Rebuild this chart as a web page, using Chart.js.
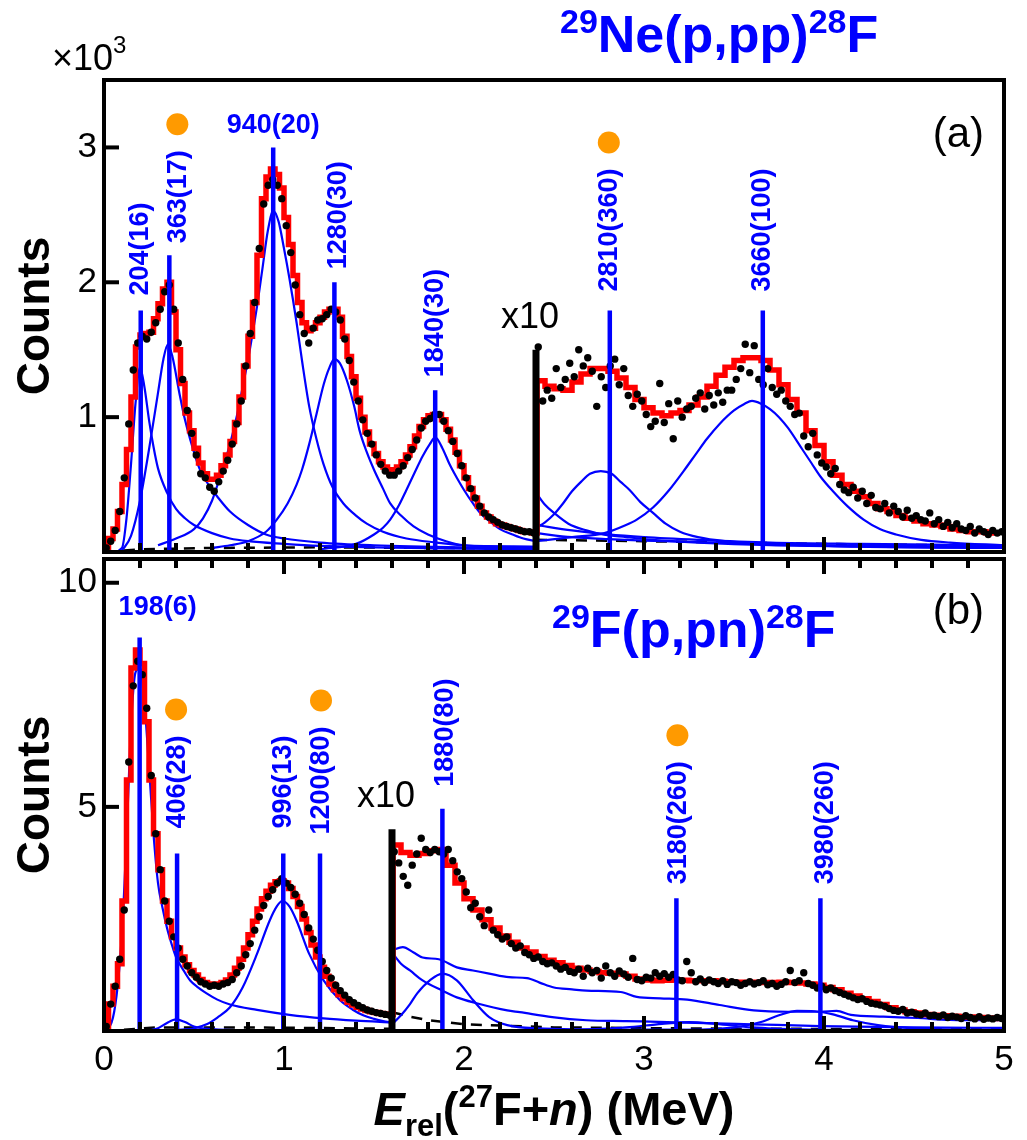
<!DOCTYPE html>
<html>
<head>
<meta charset="utf-8">
<script src="https://cdn.jsdelivr.net/npm/chart.js@4.4.1/dist/chart.umd.min.js"></script>
<style>
  html, body { margin: 0; padding: 0; background: #fff; }
  #wrap { position: relative; width: 1027px; height: 1140px; }
  #wrap canvas { position: absolute; left: 0; }
  #panel-a { top: 0; }
  #panel-b { top: 555px; }
</style>
</head>
<body>
<div id="wrap">
  <canvas id="panel-a" width="1027" height="556"></canvas>
  <canvas id="panel-b" width="1027" height="585"></canvas>
</div>
<script>
const FONT = '"Liberation Sans", Arial, Helvetica, sans-serif';
const BLUE = '#0000ff', RED = '#ff0000', ORANGE = '#ff9a00';

// energy axis, MeV
const xMajorTicks = [0, 1, 2, 3, 4, 5];
const xMinorStep = 0.2;

// ---------- (a) 29Ne(p,pp)28F ----------
const yTicksA = [1, 2, 3];
const cutA = 2.4, cutTopA = 1.5;           // x10 above this energy
const levelsA = [204, 363, 940, 1280, 1840, 2810, 3660];   // keV
const levelErrA = [16, 17, 20, 30, 30, 360, 100];
const levelTopA = [1.79, 2.2, 3.0, 2.0, 1.2, 1.79, 1.79];
const markedA = [363, 2810];

// fit: 25 keV bins below the cut, 50 keV bins above it
const fitA_lo = [
  0.03, 0.10, 0.17, 0.30, 0.50, 0.76, 1.15, 1.52, 1.61, 1.62,
  1.63, 1.73, 1.84, 1.95, 2.00, 1.78, 1.50, 1.25, 1.03, 0.90,
  0.77, 0.66, 0.58, 0.54, 0.54, 0.57, 0.64, 0.72, 0.82, 0.96,
  1.15, 1.38, 1.60, 1.85, 2.20, 2.62, 2.78, 2.84, 2.80, 2.70,
  2.48, 2.28, 2.05, 1.85, 1.70, 1.64, 1.66, 1.70, 1.74, 1.78,
  1.80, 1.80, 1.74, 1.60, 1.45, 1.30, 1.14, 1.00, 0.89, 0.80,
  0.73, 0.67, 0.63, 0.61, 0.61, 0.63, 0.67, 0.72, 0.78, 0.86,
  0.93, 0.98, 1.01, 1.02, 1.02, 0.98, 0.91, 0.83, 0.74, 0.64,
  0.55, 0.47, 0.40, 0.34, 0.29, 0.26, 0.23, 0.21, 0.20, 0.19,
  0.18, 0.17, 0.16, 0.15, 0.15, 0.14
];
const fitA_hi = [
  1.27, 1.23, 1.21, 1.20, 1.26, 1.32, 1.36, 1.36, 1.34, 1.29,
  1.22, 1.13, 1.07, 1.03, 1.01, 1.03, 1.05, 1.09, 1.15, 1.23,
  1.31, 1.37, 1.42, 1.44, 1.44, 1.42, 1.35, 1.24, 1.13, 1.03,
  0.90, 0.79, 0.67, 0.57, 0.50, 0.45, 0.41, 0.36, 0.32, 0.30,
  0.27, 0.25, 0.23, 0.21, 0.20, 0.19, 0.17, 0.16, 0.15, 0.15,
  0.14, 0.14
];
// data, 25 keV bins
const countsA_lo = [
  0.03, 0.08, 0.16, 0.30, 0.55, 0.95, 1.35, 1.55, 1.60, 1.58,
  1.63, 1.70, 1.80, 1.93, 1.98, 1.80, 1.55, 1.28, 1.05, 0.88,
  0.72, 0.58, 0.55, 0.48, 0.45, 0.52, 0.60, 0.68, 0.80, 0.95,
  1.12, 1.38, 1.62, 1.85, 2.25, 2.58, 2.72, 2.76, 2.72, 2.62,
  2.42, 2.22, 1.98, 1.76, 1.62, 1.55, 1.66, 1.72, 1.73, 1.76,
  1.80, 1.78, 1.72, 1.58, 1.42, 1.26, 1.12, 0.98, 0.88, 0.80,
  0.72, 0.65, 0.60, 0.57, 0.57, 0.60, 0.64, 0.70, 0.76, 0.83,
  0.92, 0.97, 0.99, 1.02, 1.02, 0.97, 0.90, 0.82, 0.73, 0.64,
  0.55, 0.47, 0.40, 0.34, 0.29, 0.26, 0.24, 0.22, 0.20, 0.19,
  0.18, 0.17, 0.16, 0.15, 0.15, 0.14
];
const countsA_hi = [
  1.52, 1.12, 1.20, 1.14, 1.36, 1.22, 1.28, 1.40, 1.30, 1.50,
  1.38, 1.44, 1.34, 1.08, 1.30, 1.22, 1.38, 1.43, 1.24, 1.36,
  1.16, 1.08, 1.17, 1.12, 1.02, 0.93, 0.97, 1.25, 0.96, 1.10,
  0.84, 1.12, 1.00, 1.06, 1.08, 1.14, 1.18, 1.06, 1.16, 1.09,
  1.18, 1.11, 1.20, 1.20, 1.28, 1.36, 1.54, 1.33, 1.53, 1.28,
  1.24, 1.36, 1.22, 1.17, 1.20, 1.12, 1.08, 1.02, 1.03, 0.86,
  0.78, 0.88, 0.72, 0.66, 0.63, 0.58, 0.62, 0.50, 0.46, 0.44,
  0.48, 0.40, 0.45, 0.36, 0.42, 0.33, 0.32, 0.36, 0.29, 0.34,
  0.30, 0.26, 0.31, 0.25, 0.27, 0.24, 0.23, 0.29, 0.21, 0.24,
  0.19, 0.22, 0.18, 0.21, 0.17, 0.16, 0.19, 0.14, 0.17, 0.15,
  0.13, 0.16, 0.14, 0.15
];
// resonance components [E, counts]
const compA204 = [[0.05,0],[0.1,0.03],[0.125,0.25],[0.15,0.65],[0.175,1.1],[0.2,1.37],[0.225,1.22],[0.25,0.98],[0.275,0.78],[0.3,0.62],[0.35,0.44],[0.4,0.32],[0.45,0.25],[0.5,0.2],[0.6,0.14],[0.7,0.1],[0.8,0.08],[1.0,0.06],[1.2,0.045],[1.5,0.035],[2.0,0.025],[2.4,0.02]];
const compA363 = [[0.1,0.01],[0.15,0.12],[0.2,0.38],[0.25,0.76],[0.3,1.18],[0.33,1.43],[0.355,1.54],[0.38,1.45],[0.42,1.17],[0.45,0.98],[0.48,0.83],[0.53,0.62],[0.58,0.5],[0.63,0.41],[0.7,0.3],[0.8,0.2],[0.9,0.13],[1.0,0.1],[1.2,0.07],[1.5,0.05],[2.0,0.035],[2.4,0.03]];
const compA940 = [[0.3,0.05],[0.4,0.1],[0.5,0.17],[0.55,0.25],[0.6,0.38],[0.65,0.58],[0.7,0.8],[0.74,1.02],[0.77,1.22],[0.81,1.5],[0.85,1.82],[0.88,2.1],[0.91,2.38],[0.94,2.53],[0.97,2.45],[1.0,2.25],[1.03,2.03],[1.07,1.7],[1.1,1.42],[1.14,1.08],[1.18,0.84],[1.22,0.65],[1.27,0.48],[1.33,0.36],[1.4,0.27],[1.46,0.21],[1.55,0.15],[1.68,0.1],[1.85,0.07],[2.0,0.05],[2.4,0.04]];
const compA1280 = [[0.6,0.03],[0.7,0.05],[0.8,0.08],[0.9,0.15],[0.96,0.24],[1.02,0.36],[1.07,0.5],[1.1,0.61],[1.14,0.8],[1.18,1.02],[1.22,1.24],[1.25,1.36],[1.28,1.43],[1.31,1.4],[1.35,1.27],[1.39,1.08],[1.42,0.9],[1.46,0.74],[1.5,0.61],[1.55,0.47],[1.59,0.36],[1.65,0.27],[1.72,0.19],[1.8,0.13],[1.9,0.08],[2.0,0.05],[2.2,0.04],[2.4,0.03]];
const compA1840 = [[1.2,0.02],[1.4,0.06],[1.5,0.13],[1.55,0.18],[1.59,0.24],[1.64,0.35],[1.68,0.46],[1.73,0.6],[1.77,0.71],[1.81,0.8],[1.84,0.85],[1.88,0.77],[1.92,0.65],[1.96,0.55],[2.0,0.46],[2.05,0.36],[2.09,0.29],[2.15,0.22],[2.2,0.17],[2.27,0.13],[2.33,0.1],[2.4,0.08]];
const compA1840x = [[2.4,0.44],[2.45,0.35],[2.5,0.29],[2.58,0.21],[2.68,0.16],[2.77,0.13],[2.9,0.11],[3.05,0.09],[3.3,0.07],[3.7,0.05],[4.2,0.04],[5,0.03]];
const compA1280x = [[2.4,0.2],[2.6,0.16],[2.8,0.13],[3.0,0.11],[3.3,0.09],[3.7,0.07],[4.2,0.06],[5,0.05]];
const compA940x = [[2.4,0.14],[2.6,0.11],[2.8,0.095],[3.0,0.085],[3.4,0.07],[4,0.05],[5,0.04]];
const compA2810 = [[2.4,0.18],[2.45,0.22],[2.5,0.28],[2.55,0.36],[2.6,0.45],[2.65,0.52],[2.7,0.58],[2.76,0.6],[2.82,0.58],[2.87,0.52],[2.92,0.46],[2.98,0.37],[3.05,0.29],[3.12,0.21],[3.2,0.15],[3.3,0.11],[3.45,0.08],[3.7,0.06],[4.2,0.04],[5,0.03]];
const compA3660 = [[2.4,0.08],[2.6,0.11],[2.78,0.14],[2.9,0.2],[2.96,0.24],[3.05,0.33],[3.14,0.46],[3.22,0.6],[3.29,0.73],[3.35,0.84],[3.42,0.95],[3.5,1.05],[3.56,1.1],[3.6,1.12],[3.65,1.1],[3.7,1.06],[3.75,1.0],[3.8,0.92],[3.88,0.76],[3.93,0.66],[3.98,0.56],[4.05,0.45],[4.13,0.34],[4.22,0.24],[4.31,0.17],[4.4,0.13],[4.54,0.09],[4.7,0.07],[5,0.05]];
const bgA = [[0,0],[0.2,0.02],[0.6,0.03],[1.2,0.035],[1.8,0.03],[2.4,0.025]];
const bgAx = [[2.4,0.09],[3,0.08],[4,0.06],[5,0.045]];

// ---------- (b) 29F(p,pn)28F ----------
const yTicksB = [5, 10];
const cutB = 1.6, cutTopB = 4.5;
const levelsB = [198, 406, 996, 1200, 1880, 3180, 3980];
const levelErrB = [6, 28, 13, 80, 80, 260, 260];
const levelTopB = [8.78, 3.96, 3.96, 3.96, 4.96, 2.96, 2.96];
const markedB = [406, 1200, 3180];

const fitB_lo = [
  0.10, 0.60, 1.00, 1.50, 2.90, 5.60, 8.10, 8.50, 8.20, 6.90,
  5.60, 4.40, 3.60, 2.90, 2.45, 2.10, 1.85, 1.65, 1.48, 1.35,
  1.25, 1.15, 1.08, 1.05, 1.05, 1.05, 1.08, 1.14, 1.25, 1.40,
  1.60, 1.85, 2.15, 2.45, 2.72, 2.95, 3.12, 3.25, 3.33, 3.35,
  3.30, 3.18, 3.00, 2.78, 2.50, 2.20, 1.92, 1.65, 1.42, 1.22,
  1.05, 0.92, 0.81, 0.72, 0.64, 0.58, 0.53, 0.49, 0.46, 0.43,
  0.41, 0.39, 0.38, 0.37
];
const fitB_hi = [
  4.15, 3.98, 3.92, 3.96, 4.02, 4.05, 3.70, 3.30, 2.95, 2.70,
  2.48, 2.30, 2.12, 1.98, 1.85, 1.76, 1.66, 1.58, 1.52, 1.46,
  1.40, 1.36, 1.33, 1.30, 1.29, 1.27, 1.22, 1.16, 1.14, 1.12,
  1.13, 1.14, 1.13, 1.12, 1.12, 1.12, 1.11, 1.10, 1.09, 1.09,
  1.09, 1.08, 1.08, 1.09, 1.08, 1.07, 1.05, 1.02, 0.97, 0.92,
  0.84, 0.78, 0.72, 0.66, 0.59, 0.52, 0.47, 0.43, 0.40, 0.37,
  0.35, 0.34, 0.33, 0.32, 0.31, 0.30, 0.29, 0.28
];
const countsB_lo = [
  0.10, 0.60, 1.00, 1.60, 2.70, 6.00, 7.70, 8.25, 7.95, 7.20,
  5.70, 4.40, 3.60, 2.90, 2.45, 2.10, 1.85, 1.60, 1.45, 1.30,
  1.20, 1.10, 1.05, 1.00, 1.02, 1.00, 1.05, 1.08, 1.15, 1.30,
  1.45, 1.70, 1.95, 2.25, 2.55, 2.80, 3.00, 3.15, 3.30, 3.40,
  3.30, 3.20, 3.05, 2.85, 2.60, 2.30, 2.05, 1.80, 1.55, 1.35,
  1.18, 1.02, 0.90, 0.80, 0.70, 0.63, 0.57, 0.52, 0.47, 0.44,
  0.41, 0.39, 0.37, 0.35
];
const countsB_hi = [
  4.00, 3.75, 3.45, 3.25, 3.70, 3.95, 4.30, 4.05, 3.98, 4.05,
  4.00, 3.95, 4.05, 3.80, 3.55, 3.40, 3.10, 2.75, 2.85, 2.55,
  2.35, 2.70, 2.25, 2.15, 2.05, 2.10, 1.95, 1.85, 1.90, 1.75,
  1.70, 1.62, 1.65, 1.55, 1.50, 1.52, 1.45, 1.38, 1.42, 1.33,
  1.30, 1.38, 1.22, 1.40, 1.30, 1.35, 1.18, 1.45, 1.30, 1.22,
  1.34, 1.27, 1.20, 1.62, 1.15, 1.12, 1.20, 1.18, 1.30, 1.22,
  1.28, 1.20, 1.26, 1.14, 1.12, 1.55, 1.30, 1.10, 1.16, 1.08,
  1.14, 1.10, 1.06, 1.12, 1.04, 1.10, 1.08, 1.02, 1.06, 1.10,
  1.05, 1.08, 1.12, 1.03, 1.06, 1.00, 1.04, 1.10, 1.35, 1.08,
  1.12, 1.30, 1.06, 1.02, 0.96, 1.00, 0.92, 0.96, 0.90, 0.86,
  0.82, 0.78, 0.74, 0.70, 0.72, 0.66, 0.62, 0.60, 0.58, 0.55,
  0.50, 0.46, 0.44, 0.48, 0.40, 0.42, 0.38, 0.36, 0.40, 0.34,
  0.35, 0.32, 0.36, 0.30, 0.33, 0.31, 0.28, 0.34, 0.30, 0.27,
  0.32, 0.26, 0.29, 0.27, 0.30, 0.28
];
const compB198 = [[0,0],[0.05,0.3],[0.1,2.2],[0.13,4.8],[0.15,6.8],[0.175,8.0],[0.2,8.1],[0.225,7.3],[0.25,5.9],[0.275,4.4],[0.3,3.3],[0.325,2.75],[0.35,2.3],[0.375,1.95],[0.4,1.65],[0.45,1.3],[0.48,1.12],[0.52,0.98],[0.57,0.84],[0.63,0.7],[0.7,0.59],[0.85,0.47],[1.03,0.36],[1.22,0.28],[1.4,0.23],[1.6,0.19]];
const compB406 = [[0.25,0.01],[0.3,0.06],[0.35,0.18],[0.4,0.26],[0.45,0.2],[0.5,0.1],[0.6,0.04],[0.8,0.015],[1.6,0.01]];
const compB996 = [[0.4,0.02],[0.5,0.06],[0.57,0.15],[0.63,0.3],[0.7,0.53],[0.77,0.97],[0.85,1.72],[0.92,2.46],[0.96,2.78],[0.99,2.9],[1.03,2.78],[1.07,2.46],[1.14,1.72],[1.22,1.13],[1.31,0.69],[1.38,0.48],[1.44,0.35],[1.5,0.27],[1.55,0.22],[1.6,0.19]];
const compB198x = [[1.6,1.8],[1.66,1.87],[1.72,1.75],[1.77,1.64],[1.86,1.6],[1.96,1.42],[2.05,1.35],[2.14,1.28],[2.25,1.2],[2.35,1.18],[2.42,1.08],[2.5,0.97],[2.6,0.93],[2.68,0.9],[2.87,0.87],[2.96,0.76],[3.09,0.73],[3.24,0.7],[3.42,0.58],[3.61,0.46],[3.8,0.43],[3.98,0.43],[4.07,0.45],[4.15,0.36],[4.33,0.32],[4.52,0.29],[4.7,0.25],[5,0.24]];
const compB996x = [[1.6,1.75],[1.65,1.5],[1.7,1.35],[1.77,1.13],[1.88,0.9],[1.96,0.75],[2.07,0.62],[2.24,0.46],[2.31,0.42],[2.49,0.31],[2.68,0.24],[2.9,0.22],[3.13,0.2],[3.4,0.17],[3.6,0.15],[3.98,0.11],[4.5,0.08],[5,0.07]];
const compB1880 = [[1.6,0.15],[1.65,0.35],[1.7,0.6],[1.74,0.84],[1.81,1.13],[1.88,1.28],[1.96,1.13],[2.05,0.69],[2.14,0.31],[2.24,0.13],[2.4,0.06],[3,0.03],[5,0.02]];
const compB3180 = [[2.6,0.02],[2.9,0.08],[3.1,0.16],[3.25,0.2],[3.4,0.16],[3.6,0.08],[3.9,0.03],[4.3,0.01]];
const compB3980 = [[3.3,0.02],[3.5,0.08],[3.65,0.2],[3.75,0.35],[3.85,0.45],[3.95,0.44],[4.05,0.37],[4.16,0.24],[4.3,0.13],[4.5,0.06],[5,0.02]];
const bgB = [[0,0],[0.3,0.08],[0.8,0.08],[1.6,0.05]];
const bgBx = [[1.6,0.42],[1.7,0.32],[1.8,0.24],[2.0,0.15],[2.5,0.08],[3.5,0.05],[5,0.04]];

// ---------- helpers ----------
const binned = (vals, first, width) => vals.map((v, i) => ({ x: +(first + i * width).toFixed(4), y: v }));
const pts = arr => arr.map(([x, y]) => ({ x, y }));

function buildDatasets(p) {
  const ds = [];
  p.levels.forEach((e, i) => ds.push({
    data: [{ x: e / 1000, y: 0 }, { x: e / 1000, y: p.levelTop[i] }],
    borderColor: BLUE, borderWidth: 4.5, borderCapStyle: 'butt', pointRadius: 0, order: 0
  }));
  ds.push({
    data: [{ x: p.cut, y: 0 }, { x: p.cut, y: p.cutTop }],
    borderColor: '#000', borderWidth: 7, borderCapStyle: 'butt', pointRadius: 0, order: 0
  });
  ds.push({
    data: binned(p.countsLo, 0.0125, 0.025).concat(binned(p.countsHi, p.cut + 0.0125, 0.025)),
    showLine: false, pointRadius: 3.7, pointBackgroundColor: '#000', pointBorderWidth: 0, order: 1
  });
  ds.push({
    data: binned(p.fitLo, 0.0125, 0.025).concat(binned(p.fitHi, p.cut + 0.025, 0.05)),
    stepped: 'middle', borderColor: RED, borderWidth: 5.5, pointRadius: 0, order: 2
  });
  p.components.forEach(c => ds.push({
    data: pts(c), borderColor: BLUE, borderWidth: 2.2, pointRadius: 0,
    cubicInterpolationMode: 'monotone', order: 3
  }));
  p.background.forEach(c => ds.push({
    data: pts(c), borderColor: '#000', borderWidth: 2.5, borderDash: [11, 9],
    pointRadius: 0, order: 4
  }));
  return ds;
}

function richText(ctx, parts, x, y, align) {
  let total = 0;
  parts.forEach(s => { ctx.font = s.font; total += ctx.measureText(s.t).width; });
  let cx = align === 'center' ? x - total / 2 : x;
  ctx.textAlign = 'left';
  ctx.textBaseline = 'alphabetic';
  parts.forEach(s => {
    ctx.font = s.font;
    ctx.fillText(s.t, cx, y + (s.dy || 0));
    cx += ctx.measureText(s.t).width;
  });
}

function drawFrame(chart, p) {
  const { ctx, chartArea: a, scales: { x, y } } = chart;
  ctx.save();
  ctx.strokeStyle = '#000';
  ctx.lineWidth = 4;
  ctx.strokeRect(a.left, a.top, a.right - a.left, a.bottom - a.top);
  for (let k = 1; k < 25; k++) {
    const px = x.getPixelForValue(k * xMinorStep);
    const len = k % 5 === 0 ? 15 : 9;
    ctx.beginPath();
    ctx.moveTo(px, a.bottom); ctx.lineTo(px, a.bottom - len);
    if (p.topTicks) { ctx.moveTo(px, a.top); ctx.lineTo(px, a.top + len); }
    ctx.stroke();
  }
  p.yTicks.forEach(v => {
    const py = y.getPixelForValue(v);
    ctx.beginPath(); ctx.moveTo(a.left, py); ctx.lineTo(a.left + 15, py); ctx.stroke();
  });
  ctx.restore();
}

function drawText(chart, p) {
  const { ctx, chartArea: a, scales: { x, y } } = chart;
  ctx.save();

  // level labels and orange markers
  p.levels.forEach((e, i) => {
    const px = x.getPixelForValue(e / 1000) + p.labelShift[i];
    const top = y.getPixelForValue(p.levelTop[i]);
    const text = `${e}(${p.levelErr[i]})`;
    ctx.fillStyle = BLUE;
    ctx.font = `bold 27px ${FONT}`;
    let markY;
    if (e === p.flatLabel) {
      ctx.textAlign = 'center'; ctx.textBaseline = 'alphabetic';
      ctx.fillText(text, px, top - p.labelGap[i]);
      markY = top - p.labelGap[i] - 45;
    } else {
      const w = ctx.measureText(text).width;
      ctx.save();
      ctx.translate(px, top - p.labelGap[i]);
      ctx.rotate(-Math.PI / 2);
      ctx.textAlign = 'left'; ctx.textBaseline = 'middle';
      ctx.fillText(text, 0, 0);
      ctx.restore();
      markY = top - p.labelGap[i] - w - 26;
    }
    if (p.marked.includes(e)) {
      ctx.fillStyle = ORANGE;
      ctx.beginPath(); ctx.arc(px - 1, markY, 11, 0, Math.PI * 2); ctx.fill();
    }
  });

  // x10 marker
  ctx.fillStyle = '#000';
  ctx.font = `36px ${FONT}`;
  ctx.textAlign = 'left'; ctx.textBaseline = 'alphabetic';
  ctx.fillText('x10', x.getPixelForValue(p.cut) - 35, y.getPixelForValue(p.cutTop) - 22);

  // panel tag
  ctx.font = `42px ${FONT}`;
  ctx.textAlign = 'right';
  ctx.fillText(p.tag, a.right - 20, a.top + p.tagDy);

  // reaction title
  ctx.fillStyle = BLUE;
  const big = `bold 52px ${FONT}`, sup = `bold 34px ${FONT}`;
  richText(ctx, p.reaction.map((t, i) => i % 2 === 0
    ? { t, font: sup, dy: -19 } : { t, font: big }), p.titleX, p.titleY, 'left');

  if (p.multiplier) {
    ctx.fillStyle = '#000';
    richText(ctx, [
      { t: '\u00d710', font: `36px ${FONT}` },
      { t: '3', font: `24px ${FONT}`, dy: -17 }
    ], 52, 70, 'left');
  }

  if (p.xTitle) {
    ctx.fillStyle = '#000';
    const b = `bold 47px ${FONT}`, bi = `italic bold 47px ${FONT}`, s = `bold 31px ${FONT}`;
    richText(ctx, [
      { t: 'E', font: bi },
      { t: 'rel', font: s, dy: 11 },
      { t: '(', font: b },
      { t: '27', font: s, dy: -18 },
      { t: 'F+', font: b },
      { t: 'n', font: bi },
      { t: ') (MeV)', font: b }
    ], (a.left + a.right) / 2, 570, 'center');
  }
  ctx.restore();
}

function makeChart(id, p) {
  return new Chart(document.getElementById(id), {
    type: 'line',
    data: { datasets: buildDatasets(p) },
    options: {
      responsive: false,
      animation: false,
      events: [],
      layout: { padding: p.padding },
      plugins: { legend: { display: false }, tooltip: { enabled: false } },
      scales: {
        x: {
          type: 'linear', min: 0, max: 5, display: p.showX,
          grid: { display: false, drawTicks: false },
          border: { display: false },
          afterBuildTicks: s => { s.ticks = xMajorTicks.map(v => ({ value: v })); },
          afterFit: s => {
            s.height = p.xAxisHeight;
            s.paddingLeft = 0; s.paddingRight = 0;
          },
          ticks: { color: '#000', font: { family: FONT, size: 35 }, padding: 8, maxRotation: 0, autoSkip: false }
        },
        y: {
          type: 'linear', min: 0, max: p.yMax,
          grid: { display: false, drawTicks: false },
          border: { display: false },
          afterBuildTicks: s => { s.ticks = p.yTicks.map(v => ({ value: v })); },
          afterFit: s => {
            s.width = 104;
            s.paddingTop = 0; s.paddingBottom = 0;
          },
          ticks: { color: '#000', font: { family: FONT, size: 35 }, padding: 7 },
          title: {
            display: true, text: 'Counts', color: '#000',
            font: { family: FONT, size: 46, weight: 'bold' },
            padding: { top: 9, bottom: 0 }
          }
        }
      }
    },
    plugins: [{
      id: 'decor',
      afterDatasetsDraw: chart => drawFrame(chart, p),
      afterDraw: chart => drawText(chart, p)
    }]
  });
}

makeChart('panel-a', {
  yMax: 3.5, yTicks: yTicksA, padding: { top: 80, right: 23, bottom: 1, left: 0 },
  showX: false, xAxisHeight: 0, topTicks: false,
  cut: cutA, cutTop: cutTopA,
  levels: levelsA, levelErr: levelErrA, levelTop: levelTopA, marked: markedA, flatLabel: 940,
  labelShift: [0, 9, 0, 4, 0, 0, 0], labelGap: [15, 12, 14, 13, 13, 19, 19],
  fitLo: fitA_lo, fitHi: fitA_hi, countsLo: countsA_lo, countsHi: countsA_hi,
  components: [compA204, compA363, compA940, compA1280, compA1840, compA1840x, compA1280x, compA940x, compA2810, compA3660],
  background: [bgA, bgAx],
  tag: '(a)', tagDy: 67,
  reaction: ['29', 'Ne(p,pp)', '28', 'F'], titleX: 560, titleY: 52,
  multiplier: true, xTitle: false
});

makeChart('panel-b', {
  yMax: 10.53, yTicks: yTicksB, padding: { top: 0, right: 23, bottom: 0, left: 0 },
  showX: true, xAxisHeight: 109, topTicks: true,
  cut: cutB, cutTop: cutTopB,
  levels: levelsB, levelErr: levelErrB, levelTop: levelTopB, marked: markedB, flatLabel: 198,
  labelShift: [18, 0, 0, 2, 3, 2, 5], labelGap: [22, 25, 25, 19, 22, 14, 14],
  fitLo: fitB_lo, fitHi: fitB_hi, countsLo: countsB_lo, countsHi: countsB_hi,
  components: [compB198, compB406, compB996, compB198x, compB996x, compB1880, compB3180, compB3980],
  background: [bgB, bgBx],
  tag: '(b)', tagDy: 65,
  reaction: ['29', 'F(p,pn)', '28', 'F'], titleX: 552, titleY: 92,
  multiplier: false, xTitle: true
});
</script>
</body>
</html>
